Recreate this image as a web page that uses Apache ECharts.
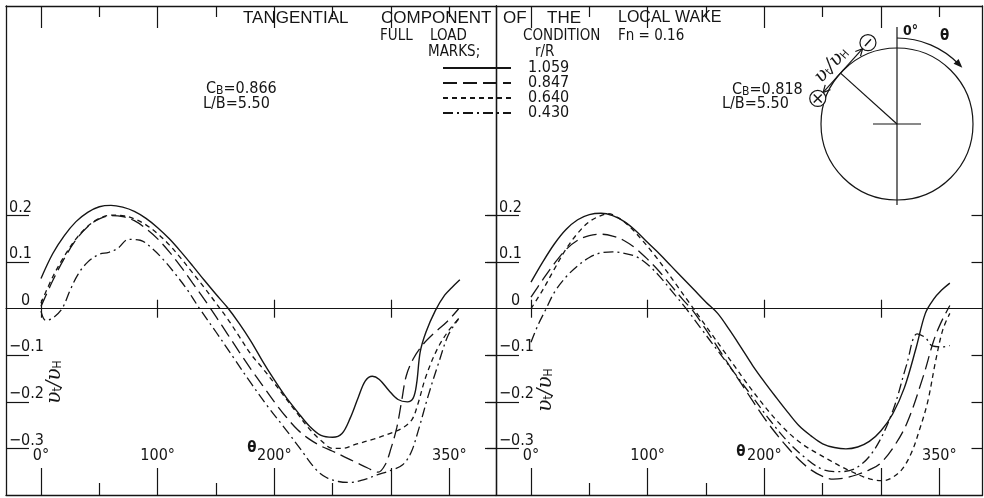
<!DOCTYPE html>
<html><head><meta charset="utf-8">
<script src="https://cdn.jsdelivr.net/npm/echarts@6/dist/echarts.min.js"></script>
<style>html,body{margin:0;padding:0;background:#fff}#c{width:984px;height:498px}</style>
</head><body><div id="c"></div>
<script>
// ---- data ----
const rLabels = ['1.059', '0.847', '0.640', '0.430'];
const xLabelValues = [0, 100, 200, 350];
const yLabelValues = [-0.3, -0.2, -0.1, 0, 0.1, 0.2];

// Left panel  (CB = 0.866)
const left_1059 = [[0,0.065],[10,0.118],[20,0.157],[30,0.187],[40,0.207],[50,0.219],[60,0.222],[70,0.218],[80,0.209],[90,0.194],[100,0.174],[110,0.15],[120,0.122],[130,0.092],[140,0.061],[150,0.031],[160,0.002],[170,-0.032],[180,-0.07],[190,-0.113],[200,-0.153],[210,-0.19],[220,-0.222],[230,-0.252],[240,-0.272],[250,-0.276],[258,-0.268],[265,-0.235],[272,-0.19],[278,-0.155],[284,-0.145],[290,-0.152],[298,-0.175],[306,-0.195],[314,-0.2],[319,-0.192],[322,-0.16],[325,-0.093],[330,-0.05],[338,-0.004],[346,0.029],[352,0.045],[359,0.062]];
const left_0847 = [[0,0.005],[10,0.06],[20,0.108],[30,0.148],[40,0.176],[50,0.193],[60,0.2],[70,0.198],[80,0.189],[90,0.172],[100,0.15],[110,0.122],[120,0.09],[130,0.055],[140,0.02],[150,-0.017],[160,-0.055],[170,-0.093],[180,-0.13],[190,-0.165],[200,-0.2],[210,-0.232],[220,-0.26],[230,-0.28],[240,-0.295],[250,-0.306],[260,-0.318],[270,-0.33],[280,-0.342],[289,-0.351],[295,-0.335],[300,-0.3],[305,-0.255],[309,-0.2],[313,-0.145],[319,-0.108],[327,-0.078],[338,-0.05],[348,-0.028],[358,0.0]];
const left_0640 = [[0,0.012],[10,0.068],[20,0.113],[30,0.15],[40,0.177],[50,0.194],[60,0.201],[70,0.2],[80,0.193],[90,0.18],[100,0.161],[110,0.137],[120,0.108],[130,0.077],[140,0.045],[150,0.012],[160,-0.022],[170,-0.06],[180,-0.098],[190,-0.128],[200,-0.16],[210,-0.193],[220,-0.226],[230,-0.258],[240,-0.283],[250,-0.3],[258,-0.3],[270,-0.291],[285,-0.28],[300,-0.267],[310,-0.256],[318,-0.238],[323,-0.205],[330,-0.145],[340,-0.085],[350,-0.045],[358,-0.022]];
const left_0430 = [[0,-0.005],[4,-0.025],[10,-0.02],[18,0.0],[25,0.04],[32,0.075],[40,0.1],[50,0.117],[58,0.121],[66,0.13],[75,0.149],[85,0.147],[95,0.13],[105,0.105],[115,0.075],[125,0.042],[136,0.0],[150,-0.05],[165,-0.105],[180,-0.16],[195,-0.212],[210,-0.26],[222,-0.3],[236,-0.346],[245,-0.363],[255,-0.371],[265,-0.373],[277,-0.367],[288,-0.357],[300,-0.347],[310,-0.335],[317,-0.31],[323,-0.265],[332,-0.186],[341,-0.115],[349,-0.057],[358,-0.021]];

// Right panel (CB = 0.818)
const right_1059 = [[0,0.057],[10,0.1],[20,0.139],[30,0.17],[40,0.191],[50,0.202],[60,0.205],[70,0.2],[80,0.187],[90,0.167],[100,0.142],[110,0.118],[120,0.092],[130,0.066],[140,0.04],[150,0.014],[160,-0.01],[170,-0.045],[180,-0.083],[190,-0.122],[200,-0.157],[210,-0.19],[220,-0.222],[230,-0.252],[240,-0.273],[250,-0.29],[260,-0.298],[270,-0.301],[280,-0.297],[290,-0.285],[300,-0.262],[310,-0.226],[320,-0.17],[330,-0.085],[338,-0.01],[345,0.02],[352,0.04],[359,0.055]];
const right_0847 = [[0,0.025],[10,0.062],[20,0.097],[30,0.127],[40,0.147],[50,0.157],[60,0.16],[70,0.156],[80,0.146],[90,0.129],[100,0.106],[110,0.08],[120,0.05],[130,0.02],[139,-0.005],[150,-0.045],[160,-0.083],[170,-0.122],[180,-0.16],[190,-0.198],[200,-0.235],[210,-0.268],[220,-0.298],[230,-0.325],[240,-0.346],[250,-0.36],[259,-0.366],[270,-0.363],[280,-0.356],[290,-0.346],[299,-0.333],[310,-0.3],[322,-0.247],[336,-0.147],[345,-0.07],[351,-0.032],[359,0.007]];
const right_0640 = [[0,0.0],[10,0.04],[20,0.085],[30,0.128],[40,0.162],[50,0.187],[60,0.2],[66,0.204],[75,0.195],[85,0.175],[95,0.148],[105,0.118],[115,0.085],[125,0.05],[135,0.015],[145,-0.02],[155,-0.055],[165,-0.09],[175,-0.125],[185,-0.16],[195,-0.193],[205,-0.224],[215,-0.252],[225,-0.276],[235,-0.295],[245,-0.31],[255,-0.324],[265,-0.338],[275,-0.35],[285,-0.361],[295,-0.368],[302,-0.369],[310,-0.362],[318,-0.345],[326,-0.31],[333,-0.26],[340,-0.2],[347,-0.11],[353,-0.045],[359,-0.01]];
const right_0430 = [[0,-0.072],[6,-0.035],[13,0.0],[20,0.035],[30,0.068],[40,0.092],[50,0.11],[60,0.12],[70,0.122],[80,0.119],[90,0.112],[100,0.095],[110,0.07],[120,0.04],[133,0.0],[145,-0.04],[160,-0.09],[175,-0.14],[190,-0.19],[205,-0.24],[220,-0.285],[235,-0.32],[250,-0.345],[265,-0.35],[280,-0.34],[295,-0.3],[310,-0.22],[322,-0.12],[331,-0.054],[338,-0.062],[344,-0.08],[352,-0.082],[359,-0.079]];

// ---- styles ----
const INK = '#151515';
const NUMFONT = "'DejaVu Sans Condensed', 'DejaVu Sans', sans-serif";
const TFONT = "'Liberation Sans', Arial, sans-serif";
const dashTypes = ['solid', [14, 6], [5, 4], [10, 4, 2, 4]];

const chart = echarts.init(document.getElementById('c'), null, {renderer: 'canvas'});

const grids = [
  {left: 6, top: 6, width: 490, height: 489},
  {left: 496, top: 6, width: 486.5, height: 489}
];
const xMax = [390, 387];

const xAxes = [];
const yAxes = [];
function xa(g, o) {
  xAxes.push(Object.assign({type: 'value', gridIndex: g, min: -30, max: xMax[g], splitLine: {show: false},
    axisLabel: {show: false}, axisTick: {show: false}, axisLine: {show: false, onZero: false}}, o));
}
function ya(g, o) {
  yAxes.push(Object.assign({type: 'value', gridIndex: g, min: -0.4, max: 0.65, splitLine: {show: false},
    axisLabel: {show: false}, axisTick: {show: false}, axisLine: {show: false, onZero: false}}, o));
}
const lineS = {show: true, onZero: false, lineStyle: {color: INK, width: 1.3}};
const tickS = (vals, len, inside) => ({show: true, customValues: vals, length: len, inside: inside, lineStyle: {color: INK, width: 1.2}});

for (let g = 0; g < 2; g++) {
  xa(g, {position: 'top', axisLine: lineS, axisTick: tickS([0, 100, 200, 300], 22, true)});
  xa(g, {position: 'top', axisTick: tickS([50, 150, 250, 350], 11, true)});
  xa(g, {position: 'bottom', axisLine: lineS, axisTick: tickS([0, 100, 200, 300, 350], 27, true),
    axisLabel: {show: true, inside: true, customValues: xLabelValues, margin: 31,
      formatter: v => v + '°', color: INK, fontSize: 16, fontFamily: NUMFONT}});
  xa(g, {position: 'bottom', axisTick: tickS([50, 150, 250], 12, true)});
  xa(g, {position: 'bottom', axisLine: {show: true, onZero: true, lineStyle: {color: INK, width: 1.2}}, axisTick: tickS([0, 100, 200, 300], 9, true)});
  xa(g, {position: 'bottom', axisLine: {show: false, onZero: true}, axisTick: tickS([0, 100, 200, 300], 9, false)});
  ya(g, {position: 'left', axisLine: lineS, axisTick: tickS([-0.3, -0.2, -0.1, 0.1, 0.2], 23, true),
    axisLabel: {show: true, inside: true, customValues: yLabelValues, margin: 3, verticalAlign: 'bottom',
      color: INK, fontSize: 16, fontFamily: NUMFONT,
      formatter: v => v === 0 ? '{z|0}' : (v < 0 ? '−' + Math.abs(v).toFixed(1) : v.toFixed(1)),
      rich: {z: {padding: [0, 0, 0, 12], fontSize: 16, fontFamily: NUMFONT, color: INK}}}});
  ya(g, {position: 'right', axisLine: lineS, axisTick: tickS([-0.3, -0.2, -0.1, 0.1, 0.2], 11, true)});
}
ya(1, {position: 'left', axisTick: tickS([-0.3, -0.2, -0.1, 0.1, 0.2], 9, false)});

const leftSets = [left_1059, left_0847, left_0640, left_0430];
const rightSets = [right_1059, right_0847, right_0640, right_0430];
const series = [];
[leftSets, rightSets].forEach((sets, g) => {
  sets.forEach((d, i) => {
    series.push({
      type: 'line', name: rLabels[i], data: d, xAxisIndex: g * 6, yAxisIndex: g * 2,
      smooth: 0.35, showSymbol: false, symbol: 'none', silent: true,
      itemStyle: {color: INK},
      lineStyle: {color: INK, width: i === 0 ? 1.4 : 1.3, type: dashTypes[i]}
    });
  });
});

// ---- diagram geometry (illustration) ----
const cx = 897, cy = 124, R = 76;
const a = 42 * Math.PI / 180;
const ux = -Math.cos(a), uy = -Math.sin(a);
const px = cx + R * ux, py = cy + R * uy;
const tx = Math.sin(a), ty = -Math.cos(a);
const P = (s) => [px + s * tx, py + s * ty];
const plusC = P(-34), minusC = P(41);
const ar = (tip, dx, dy) => ({type: 'polyline', shape: {points: [[tip[0] - 7 * dx - 3.5 * dy, tip[1] - 7 * dy + 3.5 * dx], tip, [tip[0] - 7 * dx + 3.5 * dy, tip[1] - 7 * dy - 3.5 * dx]]}, style: {stroke: INK, lineWidth: 1.2, fill: 'none'}});
const phi = 46 * Math.PI / 180, Ra = 86;
const arcEnd = [cx + Ra * Math.sin(phi), cy - Ra * Math.cos(phi)];

const txt = (x, y, s, o) => ({type: 'text', x: x, y: y, style: Object.assign({text: s, fill: INK, font: '16px ' + TFONT, textVerticalAlign: 'middle'}, o || {})});
const cbRich = {b: {fontSize: 12, fontFamily: NUMFONT, fill: INK, padding: [3, 0, 0, 0]}};
const vRich = (big, small) => ({v: {fontSize: big, fontFamily: "'DejaVu Serif', serif", fontStyle: 'italic', fill: INK}, s: {fontSize: small, fontFamily: NUMFONT, fill: INK, padding: [6, 0, 0, 0]}});

const graphic = [
  txt(243, 18, 'TANGENTIAL', {font: '17px ' + TFONT}),
  txt(381, 18, 'COMPONENT', {font: '17px ' + TFONT}),
  txt(503, 18, 'OF', {font: '17px ' + TFONT}),
  txt(547, 18, 'THE', {font: '17px ' + TFONT}),
  txt(618, 18, 'LOCAL', {font: '16px ' + TFONT}),
  txt(675, 18, 'WAKE', {font: '16px ' + TFONT}),
  txt(380, 36, 'FULL', {font: '15px ' + NUMFONT}),
  txt(430, 36, 'LOAD', {font: '15px ' + NUMFONT}),
  txt(523, 36, 'CONDITION', {font: '15px ' + NUMFONT}),
  txt(618, 36, 'Fn = 0.16', {font: '15px ' + NUMFONT}),
  txt(428, 52, 'MARKS;', {font: '15px ' + NUMFONT}),
  txt(535, 52, 'r/R', {font: '15px ' + NUMFONT}),
  {type: 'text', x: 206, y: 89, style: {rich: cbRich, text: 'C{b|B}=0.866', fill: INK, font: '16px ' + NUMFONT, textVerticalAlign: 'middle'}},
  txt(203, 104, 'L/B=5.50', {font: '16px ' + NUMFONT}),
  {type: 'text', x: 732, y: 90, style: {rich: cbRich, text: 'C{b|B}=0.818', fill: INK, font: '16px ' + NUMFONT, textVerticalAlign: 'middle'}},
  txt(722, 104, 'L/B=5.50', {font: '16px ' + NUMFONT}),
  txt(252, 448, 'θ', {font: 'bold 15px ' + NUMFONT, textAlign: 'center'}),
  txt(741, 452, 'θ', {font: 'bold 15px ' + NUMFONT, textAlign: 'center'}),
  {type: 'text', x: 55, y: 382, rotation: Math.PI / 2, style: {text: '{v|υ}{s|t}{v|/υ}{s|H}', textAlign: 'center', textVerticalAlign: 'middle', rich: vRich(20, 12)}},
  {type: 'text', x: 546, y: 390, rotation: Math.PI / 2, style: {text: '{v|υ}{s|t}{v|/υ}{s|H}', textAlign: 'center', textVerticalAlign: 'middle', rich: vRich(20, 12)}},
  {type: 'circle', shape: {cx: cx, cy: cy, r: R}, style: {fill: 'none', stroke: INK, lineWidth: 1.2}},
  {type: 'line', shape: {x1: cx, y1: 27, x2: cx, y2: 205}, style: {stroke: INK, lineWidth: 1.2}},
  {type: 'line', shape: {x1: cx - 24, y1: cy, x2: cx + 24, y2: cy}, style: {stroke: INK, lineWidth: 1.2}},
  {type: 'line', shape: {x1: cx, y1: cy, x2: px, y2: py}, style: {stroke: INK, lineWidth: 1.2}},
  {type: 'line', shape: {x1: P(-26)[0], y1: P(-26)[1], x2: P(33)[0], y2: P(33)[1]}, style: {stroke: INK, lineWidth: 1.2}},
  ar(P(-26), -tx, -ty), ar(P(33), tx, ty),
  {type: 'circle', shape: {cx: plusC[0], cy: plusC[1], r: 8}, style: {fill: '#fff', stroke: INK, lineWidth: 1.2}},
  {type: 'line', shape: {x1: plusC[0] - 4, y1: plusC[1] - 4, x2: plusC[0] + 4, y2: plusC[1] + 4}, style: {stroke: INK, lineWidth: 1.4}},
  {type: 'line', shape: {x1: plusC[0] - 4, y1: plusC[1] + 4, x2: plusC[0] + 4, y2: plusC[1] - 4}, style: {stroke: INK, lineWidth: 1.4}},
  {type: 'circle', shape: {cx: minusC[0], cy: minusC[1], r: 8}, style: {fill: '#fff', stroke: INK, lineWidth: 1.2}},
  {type: 'line', shape: {x1: minusC[0] - 4.5 * tx, y1: minusC[1] - 4.5 * ty, x2: minusC[0] + 4.5 * tx, y2: minusC[1] + 4.5 * ty}, style: {stroke: INK, lineWidth: 1.4}},
  {type: 'text', x: px + 12 * ux, y: py + 12 * uy, rotation: Math.PI / 2 - a, style: {text: '{v|υ}{s|t}{v|/υ}{s|H}', textAlign: 'center', textVerticalAlign: 'middle', rich: vRich(19, 11)}},
  txt(903, 31, '0°', {font: 'bold 14px ' + NUMFONT}),
  txt(940, 36, 'θ', {font: 'bold 15px ' + NUMFONT}),
  {type: 'arc', shape: {cx: cx, cy: cy, r: Ra, startAngle: -Math.PI / 2, endAngle: -Math.PI / 2 + phi, clockwise: true}, style: {fill: 'none', stroke: INK, lineWidth: 1.2}},
  {type: 'polygon', shape: {points: [[arcEnd[0] + 5 * Math.cos(phi), arcEnd[1] + 5 * Math.sin(phi)], [arcEnd[0] - 4 * Math.cos(phi) - 3.5 * Math.sin(phi), arcEnd[1] - 4 * Math.sin(phi) + 3.5 * Math.cos(phi)], [arcEnd[0] - 4 * Math.cos(phi) + 3.5 * Math.sin(phi), arcEnd[1] - 4 * Math.sin(phi) - 3.5 * Math.cos(phi)]]}, style: {fill: INK}}
];

chart.setOption({
  animation: false,
  backgroundColor: '#fff',
  grid: grids,
  xAxis: xAxes,
  yAxis: yAxes,
  legend: {data: rLabels, orient: 'vertical', left: 437, top: 55, itemWidth: 68, itemHeight: 12, itemGap: -1,
    selectedMode: false, itemStyle: {opacity: 0, borderWidth: 0},
    textStyle: {color: INK, fontSize: 16, fontFamily: NUMFONT, padding: [0, 0, 0, 12], lineHeight: 14}},
  series: series,
  graphic: graphic
});
</script></body></html>
